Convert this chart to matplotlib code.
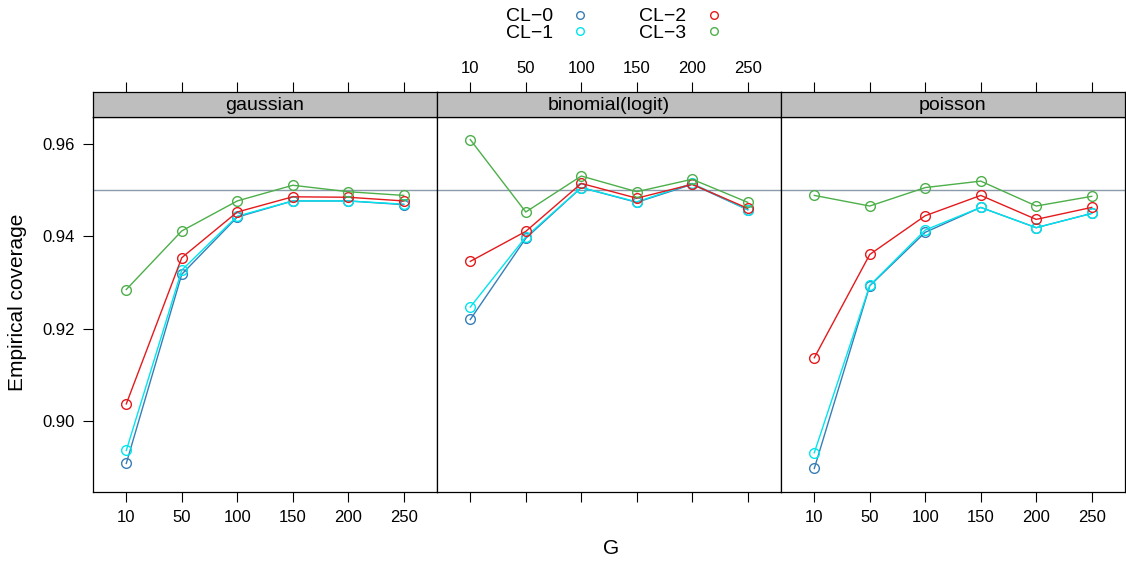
import matplotlib.pyplot as plt
from matplotlib.lines import Line2D

plt.rcParams['font.family'] = ['Liberation Sans', 'DejaVu Sans']

# valores de G (eje categórico) y familias
g_labels = ['10', '50', '100', '150', '200', '250']
families = ['gaussian', 'binomial(logit)', 'poisson']
methods = ['CL\u22120', 'CL\u22121', 'CL\u22122', 'CL\u22123']
colors = ['#377EB8', '#00E5EE', '#E41A1C', '#4DAF4A']

# cobertura empírica por familia y método
gaussian_cl0 = [0.8908, 0.9318, 0.9442, 0.9477, 0.9477, 0.9469]
gaussian_cl1 = [0.8936, 0.9327, 0.9444, 0.9477, 0.9477, 0.9470]
gaussian_cl2 = [0.9037, 0.9354, 0.9453, 0.9486, 0.9485, 0.9477]
gaussian_cl3 = [0.9285, 0.9412, 0.9477, 0.9511, 0.9497, 0.9489]

binomial_cl0 = [0.9220, 0.9396, 0.9506, 0.9474, 0.9513, 0.9458]
binomial_cl1 = [0.9247, 0.9399, 0.9506, 0.9475, 0.9515, 0.9458]
binomial_cl2 = [0.9346, 0.9411, 0.9515, 0.9483, 0.9513, 0.9461]
binomial_cl3 = [0.9610, 0.9453, 0.9531, 0.9497, 0.9524, 0.9474]

poisson_cl0 = [0.8897, 0.9293, 0.9409, 0.9463, 0.9419, 0.9450]
poisson_cl1 = [0.8931, 0.9294, 0.9414, 0.9463, 0.9419, 0.9450]
poisson_cl2 = [0.9137, 0.9361, 0.9445, 0.9489, 0.9437, 0.9463]
poisson_cl3 = [0.9489, 0.9466, 0.9506, 0.9520, 0.9466, 0.9487]

nominal = 0.95

panel_data = [
    [gaussian_cl0, gaussian_cl1, gaussian_cl2, gaussian_cl3],
    [binomial_cl0, binomial_cl1, binomial_cl2, binomial_cl3],
    [poisson_cl0, poisson_cl1, poisson_cl2, poisson_cl3],
]

W, H = 1126, 561
fig = plt.figure(figsize=(W / 100, H / 100), dpi=100)

left_px, right_px = 93, 1125
top_px, bot_px, strip_top_px = 117, 492, 92
pw = (right_px - left_px) / 3
x = list(range(1, len(g_labels) + 1))

for i, (fam, series) in enumerate(zip(families, panel_data)):
    x0 = (left_px + i * pw) / W
    ax = fig.add_axes([x0, 1 - bot_px / H, pw / W, (bot_px - top_px) / H])
    st = fig.add_axes([x0, 1 - top_px / H, pw / W, (top_px - strip_top_px) / H])

    ax.axhline(nominal, color='#8C9BAB', lw=1.0, zorder=1)
    for vals, c in zip(series, colors):
        ax.plot(x, vals, color=c, lw=1.0, marker='o', ms=7, mfc='none',
                mec=c, mew=1.0, zorder=2)

    ax.set_xlim(0.4, 6.6)
    ax.set_ylim(0.8846, 0.9659)
    ax.set_xticks(x)
    ax.set_yticks([0.90, 0.92, 0.94, 0.96])
    ax.set_yticklabels(['0.90', '0.92', '0.94', '0.96'])
    ax.tick_params(axis='both', direction='out', length=7, width=0.8,
                   labelsize=12, pad=6)
    if i == 1:
        ax.set_xticklabels([])
    else:
        ax.set_xticklabels(g_labels)
    if i != 0:
        ax.tick_params(axis='y', left=False, labelleft=False)
    for sp in ax.spines.values():
        sp.set_linewidth(0.9)

    # tira superior con el nombre de la familia
    st.set_facecolor('#BEBEBE')
    st.set_xlim(0.4, 6.6)
    st.set_ylim(0, 1)
    st.set_yticks([])
    st.set_xticks(x)
    st.tick_params(axis='x', bottom=False, labelbottom=False, top=True,
                   direction='out', length=7, width=0.8, labelsize=12,
                   pad=4.5, labeltop=(i == 1))
    if i == 1:
        st.set_xticklabels(g_labels)
    st.text(0.5, 0.45, fam, transform=st.transAxes, ha='center', va='center',
            fontsize=14)
    for sp in st.spines.values():
        sp.set_linewidth(0.9)

fig.text(611 / W, 1 - 549 / H, 'G', ha='center', va='center', fontsize=15)
fig.text(18 / W, 1 - 302 / H, 'Empirical coverage', ha='center', va='center',
         rotation=90, fontsize=15)

handles = [Line2D([], [], ls='none', marker='o', ms=5.5, mfc='none', mec=c,
                  mew=1.0) for c in colors]
fig.legend(handles, methods, loc='center', bbox_to_anchor=(0.5457, 1 - 25 / H),
           ncol=2, frameon=False, markerfirst=False, fontsize=14,
           handlelength=1.0, handletextpad=0.9, columnspacing=2.55,
           labelspacing=-0.05, borderpad=0)

fig.savefig('out.png', dpi=100)
